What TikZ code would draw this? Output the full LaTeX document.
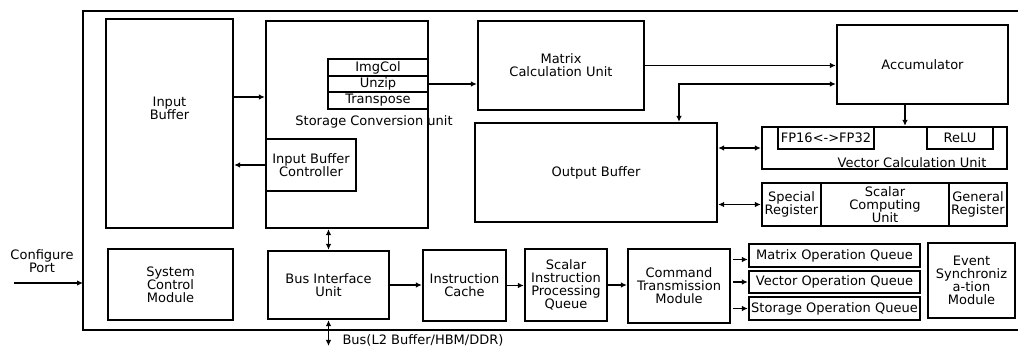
\documentclass[tikz,border=0pt]{standalone}
\usepackage{fontspec}
\setmainfont{DejaVu Sans}
\usepackage{tikz}
\usetikzlibrary{arrows.meta}
\usetikzlibrary{calc}

\tikzset{
	box/.style={draw,line width=2.2pt,inner sep=0pt,align=center},
	arr/.style={-{Latex[length=6pt,width=5.5pt]},line width=1.7pt},
	darr/.style={{Latex[length=6pt,width=5.5pt]}-{Latex[length=6pt,width=5.5pt]},line width=1.7pt},
}

\begin{document}
\begin{tikzpicture}[x=1pt,y=-1pt,font=\fontsize{13}{13}\selectfont]
	\useasboundingbox (0,0) rectangle (1018,347);
	\draw[line width=1.6pt] (1018,11) -- (83,11) -- (83,330) -- (1018,330);

	\node(inbuf) at (169.5,123.5)[box,minimum width=127pt,minimum height=209pt]{};
	\node(inbuftxt) at (169.5,108)[align=center]{Input\\Buffer};
	\node(conv) at (347,124.5)[box,minimum width=162pt,minimum height=207pt]{};
	\node(imgcol) at (378,67.5)[box,minimum width=100pt,minimum height=16.7pt]{ImgCol};
	\node(unzip) at (378,84)[box,minimum width=100pt,minimum height=16.7pt]{Unzip};
	\node(transp) at (378,100.5)[box,minimum width=100pt,minimum height=16.7pt]{Transpose};
	\node(convtxt) at (374,122){Storage Conversion unit};
	\node(inctrl) at (311,165)[box,minimum width=90pt,minimum height=52pt]{Input Buffer\\Controller};

	\node(mcu) at (561,65.5)[box,minimum width=166pt,minimum height=89pt]{Matrix\\Calculation Unit};
	\node(acc) at (922.5,64.5)[box,minimum width=171pt,minimum height=79pt]{Accumulator};
	\node(outbuf) at (596,172.5)[box,minimum width=242pt,minimum height=99pt]{Output Buffer};
	\node(vcu) at (884.5,148)[box,minimum width=245pt,minimum height=42pt]{};
	\node(fp) at (826,138)[box,minimum width=96pt,minimum height=22pt]{FP16<->FP32};
	\node(relu) at (960,138)[box,minimum width=66pt,minimum height=22pt]{ReLU};
	\node(vcutxt) at (912,163){Vector Calculation Unit};
	\node(sreg) at (791.5,204.5)[box,minimum width=59pt,minimum height=43pt]{Special\\Register};
	\node(scalar) at (885,204.5)[box,minimum width=128pt,minimum height=43pt]{Scalar\\Computing\\Unit};
	\node(greg) at (978,204.5)[box,minimum width=58pt,minimum height=43pt]{General\\Register};

	\node(sysctl) at (170.5,284.5)[box,minimum width=125pt,minimum height=71pt]{System\\Control\\Module};
	\node(biu) at (328.5,285)[box,minimum width=121pt,minimum height=68pt]{Bus Interface\\Unit};
	\node(icache) at (464.5,285.5)[box,minimum width=83pt,minimum height=71pt]{Instruction\\Cache};
	\node(siq) at (566,285)[box,minimum width=82pt,minimum height=72pt]{Scalar\\Instruction\\Processing\\Queue};
	\node(ctm) at (679,286)[box,minimum width=102pt,minimum height=74pt]{Command\\Transmission\\Module};
	\node(mq) at (834.5,255.5)[box,minimum width=171pt,minimum height=23pt]{Matrix Operation Queue};
	\node(vq) at (834.5,282)[box,minimum width=171pt,minimum height=22pt]{Vector Operation Queue};
	\node(sq) at (834.5,308.5)[box,minimum width=171pt,minimum height=23pt]{Storage Operation Queue};
	\node(event) at (971.5,280.5)[box,minimum width=87pt,minimum height=75pt]{Event\\Synchroniz\\a-tion\\Module};

	\node(cfg) at (42,261.5)[align=center]{Configure\\Port};
	\node(bustxt) at (339,340)[anchor=west]{Bus(L2 Buffer/HBM/DDR)};
	\coordinate(cfgin) at (14,283);
	\coordinate(cfgend) at (83,283);
	\coordinate(busend) at (328.5,346);

	\draw[arr]([yshift=26.5pt]inbuf.east) coordinate(a1) -- (a1 -| conv.west);
	\draw[arr](inctrl.west) -- (inctrl.west -| inbuf.east);
	\draw[arr](unzip.east) -- (unzip.east -| mcu.west);
	\draw[arr](mcu.east) -- (mcu.east -| acc.west);
	\draw[darr]([yshift=-19.5pt]acc.west) -| ([xshift=83pt]outbuf.north);
	\draw[arr]([xshift=-17.5pt]acc.south) coordinate(a2) -- (a2 |- vcu.north);
	\draw[darr](outbuf.east |- vcu.west) -- (vcu.west);
	\draw[darr](outbuf.east |- sreg.west) -- (sreg.west);
	\draw[darr](biu.north) -- (biu.north |- conv.south);
	\draw[arr](biu.east) -- (biu.east -| icache.west);
	\draw[arr](icache.east) -- (icache.east -| siq.west);
	\draw[arr](siq.east) -- (siq.east -| ctm.west);
	\draw[arr]([shift={(-15pt,-4pt)}]mq.west) -- ([yshift=-4pt]mq.west);
	\draw[arr]([xshift=-15pt]vq.west) -- (vq.west);
	\draw[arr]([xshift=-15pt]sq.west) -- (sq.west);
	\draw[arr](cfgin) -- (cfgend);
	\draw[darr](biu.south) -- (busend);
\end{tikzpicture}
\end{document}
